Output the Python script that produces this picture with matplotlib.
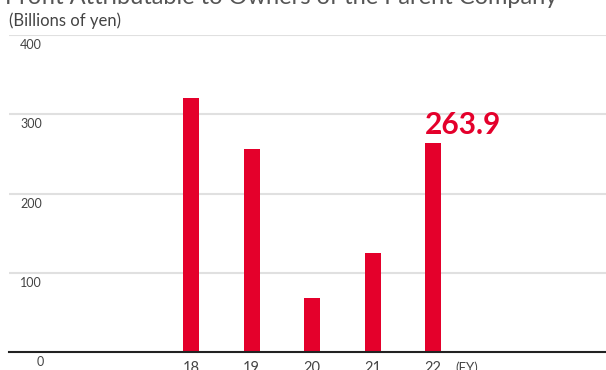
import matplotlib
matplotlib.use("Agg")
import matplotlib.pyplot as plt
from matplotlib.transforms import blended_transform_factory, offset_copy

categories = ["18", "19", "20", "21", "22"]
values = [321.0, 256.0, 68.0, 125.0, 263.9]
yticks = [0, 100, 200, 300, 400]
highlight_label = "263.9"
title = "Profit Attributable to Owners of the Parent Company"
unit = "(Billions of yen)"

RED = "#e4002b"
W, H = 606, 370
fig = plt.figure(figsize=(W / 100, H / 100), dpi=100)
plt.rcParams['font.family'] = ['Lato', 'DejaVu Sans']

def fx(px):
    return px / W

def fy(py):
    return 1 - py / H

ax_w = fx(606) - fx(9)
ax = fig.add_axes([fx(9), fy(352), ax_w, fy(35) - fy(352)])
x = list(range(len(categories)))
ax.bar(x, values, width=0.264, color=RED, zorder=3)
ax.set_xlim(-3.01, 6.86)
ax.set_ylim(0, 400)
for s in ax.spines.values():
    s.set_visible(False)
ax.set_xticks([])
ax.set_yticks([])

for t in yticks[1:]:
    ax.axhline(t, color="#e0e0e0", lw=1.5, zorder=1)
ax.axhline(0, color="#222222", lw=1.5, zorder=4, clip_on=False)

trans = blended_transform_factory(ax.transAxes, ax.transData)
for t in yticks:
    cx = 31 if t != 0 else 40
    tr = offset_copy(trans, fig=fig, x=0, y=-10, units='dots')
    ax.text((cx - 9) / 597, t, str(t), transform=tr,
            ha="center", va="center", fontsize=9, color="#444444", clip_on=False)

for xi, c in zip(x, categories):
    tr = offset_copy(ax.transData, fig=fig, x=0, y=-16, units='dots')
    ax.text(xi, 0, c, transform=tr, ha="center", va="center",
            fontsize=10.5, color="#444444", clip_on=False)
tr = offset_copy(ax.transData, fig=fig, x=0, y=-16, units='dots')
ax.text(x[-1] + 0.37, 0, "(FY)", transform=tr, ha="left", va="center",
        fontsize=9.5, color="#444444", clip_on=False)

ax.text(x[-1] - 0.132, values[-1] + 11, highlight_label, ha="left", va="baseline",
        fontsize=21.5, fontweight="bold", color=RED, zorder=5)

fig.text(fx(5), fy(4), title, ha="left", va="baseline", fontsize=17, color="#555555")
fig.text(fx(9), fy(26), unit, ha="left", va="baseline", fontsize=12, color="#444444")

fig.savefig("out.png", dpi=100)
